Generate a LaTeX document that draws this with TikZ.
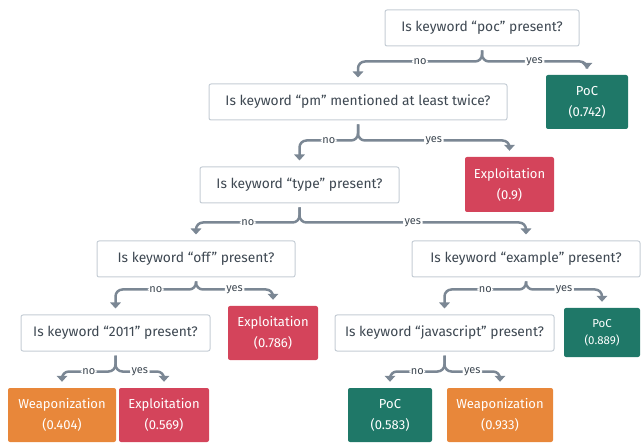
\documentclass[tikz,border=0pt]{standalone}
\usepackage{fontspec}
\setmainfont{Fira Sans}
\usetikzlibrary{arrows.meta,calc}
\definecolor{linegray}{HTML}{7B8794}
\definecolor{boxgray}{HTML}{C5CDD5}
\definecolor{textgray}{HTML}{3E4852}
\definecolor{pocgreen}{HTML}{1F7868}
\definecolor{exploitred}{HTML}{D4445B}
\definecolor{weaponorange}{HTML}{E8873A}
\begin{document}
\begin{tikzpicture}[x=1pt,y=-1pt,
    question/.style={draw=boxgray,line width=1pt,rounded corners=2pt,fill=white,text=textgray,
      minimum height=36pt,inner sep=0pt,font=\fontsize{13.8}{15}\selectfont},
    leaf/.style={rounded corners=2pt,text=white,align=center,minimum height=54pt,inner sep=0pt,
      font=\fontsize{13}{21}\selectfont},
    branch/.style={draw=linegray,line width=2.5pt,rounded corners=7pt,shorten <=4pt,shorten >=6pt,
      -{Triangle[width=10.5pt,length=6pt]}},
    answer/.style={fill=white,inner sep=1.5pt,text=textgray,font=\fontsize{11}{11}\selectfont}]
    \useasboundingbox (0,0) rectangle (642,443);
    % questions
    \node[question,minimum width=194pt] (q1) at (482,28) {Is keyword “poc” present?};
    \node[question,minimum width=298pt] (q2) at (358,102) {Is keyword “pm” mentioned at least twice?};
    \node[question,minimum width=199pt] (q3) at (299.5,185) {Is keyword “type” present?};
    \node[question,minimum width=198pt] (q4) at (196,259) {Is keyword “off” present?};
    \node[question,minimum width=228pt] (q5) at (526,259) {Is keyword “example” present?};
    \node[question,minimum width=189pt] (q6) at (115.5,333) {Is keyword “2011” present?};
    \node[question,minimum width=219pt] (q7) at (444.5,333) {Is keyword “javascript” present?};
    % leaves
    \node[leaf,fill=pocgreen,minimum width=82pt] (l1) at (587,102) {PoC\\(0.742)};
    \node[leaf,fill=exploitred,minimum width=89pt,minimum height=55pt] (l2) at (509.5,184.5) {Exploitation\\(0.9)};
    \node[leaf,fill=exploitred,minimum width=90pt] (l3) at (273,333) {Exploitation\\(0.786)};
    \node[leaf,fill=pocgreen,minimum width=76pt,minimum height=49pt,font=\fontsize{11.5}{17}\selectfont] (l4) at (602,332.5) {PoC\\(0.889)};
    \node[leaf,fill=weaponorange,minimum width=108pt] (l5) at (62,415) {Weaponization\\(0.404)};
    \node[leaf,fill=exploitred,minimum width=90pt] (l6) at (164,415) {Exploitation\\(0.569)};
    \node[leaf,fill=pocgreen,minimum width=84pt] (l7) at (390,415) {PoC\\(0.583)};
    \node[leaf,fill=weaponorange,minimum width=106pt] (l8) at (500,415) {Weaponization\\(0.933)};
    % junctions
    \coordinate (j1) at ($(q1.south)+(0,15)$);
    \coordinate (j2) at ($(q2.south)+(0,20)$);
    \coordinate (j3) at ($(q3.south)+(0,19)$);
    \coordinate (j4) at ($(q4.south)+(0,12)$);
    \coordinate (j5) at ($(q5.south)+(0,12)$);
    \coordinate (j6) at ($(q6.south)+(0,20)$);
    \coordinate (j7) at ($(q7.south)+(0,20)$);
    % branches
    \draw[branch] (q1.south) -- (j1) -- node[answer]{no} (j1 -| q2.north) -- (q2.north);
    \draw[branch] (q1.south) -- (j1) -- node[answer]{yes} (j1 -| l1.north) -- (l1.north);
    \draw[branch] (q2.south) -- (j2) -- node[answer]{no} (j2 -| q3.north) -- (q3.north);
    \draw[branch] (q2.south) -- (j2) -- node[answer]{yes} (j2 -| l2.north) -- (l2.north);
    \draw[branch] (q3.south) -- (j3) -- node[answer]{no} (j3 -| q4.north) -- (q4.north);
    \draw[branch] (q3.south) -- (j3) -- node[answer]{yes} (j3 -| q5.north) -- (q5.north);
    \draw[branch] (q4.south) -- (j4) -- node[answer]{no} (j4 -| q6.north) -- (q6.north);
    \draw[branch] (q4.south) -- (j4) -- node[answer]{yes} (j4 -| l3.north) -- (l3.north);
    \draw[branch] (q5.south) -- (j5) -- node[answer]{no} (j5 -| q7.north) -- (q7.north);
    \draw[branch] (q5.south) -- (j5) -- node[answer]{yes} (j5 -| l4.north) -- (l4.north);
    \draw[branch] (q6.south) -- (j6) -- node[answer]{no} (j6 -| l5.north) -- (l5.north);
    \draw[branch] (q6.south) -- (j6) -- node[answer]{yes} (j6 -| l6.north) -- (l6.north);
    \draw[branch] (q7.south) -- (j7) -- node[answer]{no} (j7 -| l7.north) -- (l7.north);
    \draw[branch] (q7.south) -- (j7) -- node[answer]{yes} (j7 -| l8.north) -- (l8.north);
\end{tikzpicture}
\end{document}
